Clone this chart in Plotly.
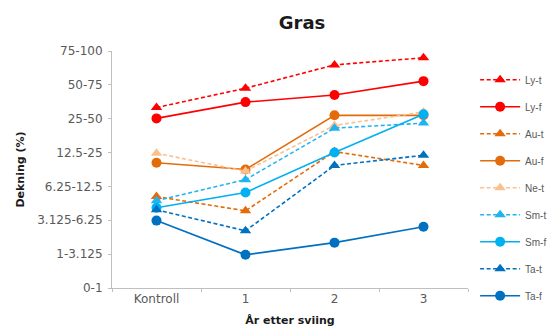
import plotly.graph_objects as go

categories = ["Kontroll", "1", "2", "3"]
level_labels = ["0-1", "1-3.125", "3.125-6.25", "6.25-12.5", "12.5-25", "25-50", "50-75", "75-100"]

series_names = ["Ly-t", "Ly-f", "Au-t", "Au-f", "Ne-t", "Sm-t", "Sm-f", "Ta-t", "Ta-f"]
ly_t = [5.33, 5.90, 6.59, 6.80]
ly_f = [5.01, 5.49, 5.70, 6.11]
au_t = [2.70, 2.28, 4.03, 3.62]
au_f = [3.70, 3.50, 5.10, 5.10]
ne_t = [3.98, 3.45, 4.80, 5.20]
sm_t = [2.58, 3.20, 4.72, 4.87]
sm_f = [2.37, 2.82, 4.00, 5.13]
ta_t = [2.31, 1.69, 3.62, 3.92]
ta_f = [1.99, 0.98, 1.34, 1.81]

series_values = [ly_t, ly_f, au_t, au_f, ne_t, sm_t, sm_f, ta_t, ta_f]
colors = ["#FF0000", "#FF0000", "#E36C0A", "#E36C0A", "#FAC090",
          "#1FB4F0", "#00B0F0", "#0070C0", "#0070C0"]

FONT = "DejaVu Sans, Verdana, sans-serif"

fig = go.Figure()
for name, vals, col in zip(series_names, series_values, colors):
    dashed = name.endswith("-t")
    fig.add_trace(go.Scatter(
        x=categories, y=vals, name=name, mode="lines+markers",
        legendgroup=name,
        line=dict(color=col, width=1.6, dash="4px,2.5px" if dashed else "solid"),
        marker=dict(color=col, size=10,
                    symbol="triangle-up" if dashed else "circle"),
    ))

fig.update_layout(
    width=558, height=328,
    margin=dict(l=104, r=98, t=43, b=48),
    paper_bgcolor="white", plot_bgcolor="white",
    font=dict(family=FONT, size=12, color="#595959"),
    title=dict(text="<b>Gras</b>", x=0.527, xanchor="center", y=0.955, yanchor="middle",
               font=dict(size=18, color="#1a1a1a", family=FONT)),
    showlegend=True,
    legend=dict(x=1.02, xanchor="left", y=0.94, yanchor="top",
                traceorder="grouped", tracegroupgap=8,
                font=dict(size=10, color="#595959", family="Liberation Sans, Arial, sans-serif"),
                itemwidth=40),
    xaxis=dict(
        type="category", range=[-0.5, 3.5], showgrid=False, zeroline=False,
        showline=True, linecolor="#BFBFBF", linewidth=1,
        ticks="outside", tickson="boundaries", ticklen=3, tickcolor="#BFBFBF",
        tickfont=dict(size=12, color="#595959"),
        title=dict(text="<b>År etter sviing</b>", standoff=10, font=dict(size=11, color="#1a1a1a")),
    ),
    yaxis=dict(
        range=[0, 7], tickvals=list(range(len(level_labels))), ticktext=level_labels,
        showgrid=False, zeroline=False, showline=True, linecolor="#BFBFBF", linewidth=1,
        ticks="outside", ticklen=3, tickcolor="#BFBFBF", ticklabelstandoff=3,
        tickfont=dict(size=12, color="#595959"),
        title=dict(text="<b>Dekning (%)</b>", standoff=10, font=dict(size=11, color="#1a1a1a")),
    ),
)

fig.write_html("out.html")
